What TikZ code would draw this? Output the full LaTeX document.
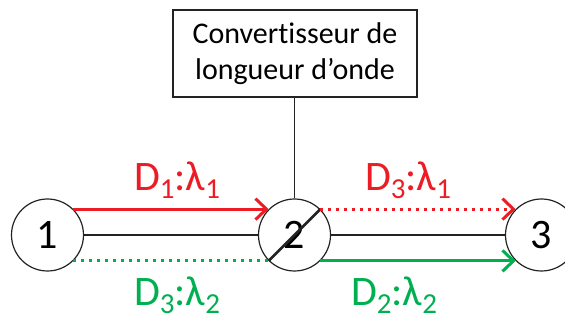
\documentclass[tikz,border=0pt]{standalone}
\usepackage{fontspec}
\setmainfont[Ligatures={TeX,NoCommon}]{Carlito}
\usetikzlibrary{arrows.meta}
\definecolor{NetRed}{RGB}{237,28,36}
\definecolor{NetGreen}{RGB}{0,176,80}
\definecolor{NetGray}{RGB}{35,35,35}
\newcommand{\lowidx}[1]{\raisebox{-0.2em}{\fontsize{29}{30}\selectfont #1}}
\begin{document}
\begin{tikzpicture}[x=1pt, y=-1pt,
    site/.style={circle, draw=NetGray, line width=1.2pt, minimum size=72pt,
                 inner sep=0pt, font=\fontsize{42}{48}\selectfont},
    conv/.style={draw=NetGray, line width=1.2pt, minimum width=244pt,
                 minimum height=87pt, align=center,
                 font=\fontsize{30}{36}\selectfont},
    link/.style={NetGray, line width=1.2pt},
    flow/.style={line width=3pt, -{Straight Barb[length=11pt,width=21pt]}},
    dots/.style={dash pattern=on 3pt off 5pt},
    lbl/.style={font=\fontsize{42}{48}\selectfont, inner sep=1pt}]
  \useasboundingbox (0,0) rectangle (565,320);
  % ---- Nodes ----
  \node[site] (n1) at (47.5,235) {1};
  \node[site] (n2) at (294.5,235) {2};
  \node[site] (n3) at (541.5,235) {3};
  \node[conv] (wc) at (295,53.5) {Convertisseur de\\longueur d'onde};
  % Fibre links
  \draw[link] (n1) -- (n2);
  \draw[link] (n2) -- (n3);
  \draw[link] (wc.south -| n2.north) -- (n2.north);
  % Converter slash
  \draw[NetGray, line width=2.5pt] (n2.225) -- (n2.45);
  % ---- Flows ----
  \draw[flow, NetRed] (n1.45) -- (n2.135);
  \draw[flow, NetRed, dots] (n2.45) -- (n3.135);
  \draw[NetGreen, line width=3pt, dots] (n1.-45) -- (n2.-135);
  \draw[flow, NetGreen] (n2.-45) -- (n3.-135);
  % Labels
  \node[lbl, NetRed] (l1) at (177,180) {D\lowidx{1}:λ\lowidx{1}};
  \node[lbl, NetRed] (l2) at (408,180) {D\lowidx{3}:λ\lowidx{1}};
  \node[lbl, NetGreen] (l3) at (177,295) {D\lowidx{3}:λ\lowidx{2}};
  \node[lbl, NetGreen] (l4) at (394,295) {D\lowidx{2}:λ\lowidx{2}};
\end{tikzpicture}
\end{document}
